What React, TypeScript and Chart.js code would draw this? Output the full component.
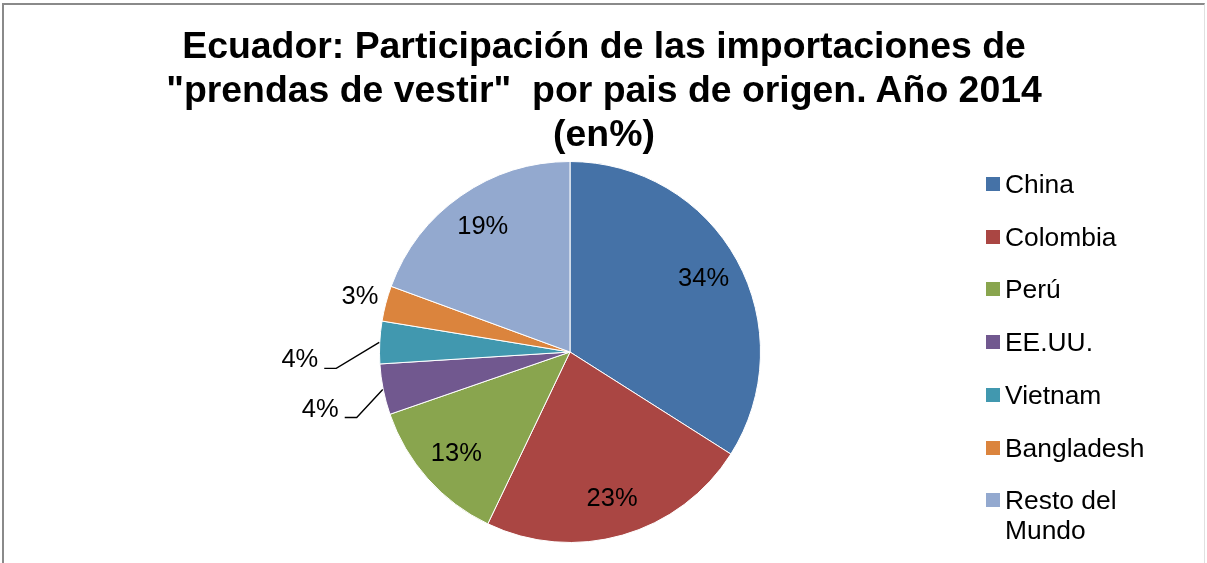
import React, { useEffect, useRef } from "react";
import { Chart, registerables } from "chart.js";

Chart.register(...registerables);

const titleLines = [
  "Ecuador: Participación de las importaciones de",
  "\"prendas de vestir\"  por pais de origen. Año 2014",
  "(en%)",
];
const categories = ["China", "Colombia", "Perú", "EE.UU.", "Vietnam", "Bangladesh", "Resto del Mundo"];
const shares = [34.0, 23.1, 12.6, 4.3, 3.6, 3.0, 19.4];
const colors = ["#4572A7", "#AA4643", "#89A54E", "#71588F", "#4198AF", "#DB843D", "#93A9CF"];

const FONT = "'Liberation Sans', Arial, sans-serif";

// label placement styles: inside radius factor, outside label styles per slice index
const insideFactor = 0.8;
const outsideStyles: Record<number, { radial?: number; leader?: { dx: number; dy: number } }> = {
  3: { leader: { dx: -26, dy: 28 } },
  4: { leader: { dx: -43, dy: 26 } },
  5: { radial: 1.14 },
};

const labelPlugin = {
  id: "pieLabels",
  afterDatasetsDraw(chart: any) {
    const ctx = chart.ctx;
    const meta = chart.getDatasetMeta(0);
    const data = chart.data.datasets[0].data as number[];
    const total = data.reduce((a, b) => a + b, 0);
    ctx.save();
    ctx.font = `25.5px ${FONT}`;
    ctx.fillStyle = "#000";
    ctx.strokeStyle = "#000";
    ctx.lineWidth = 1.4;
    meta.data.forEach((arc: any, i: number) => {
      const { x, y, startAngle, endAngle, outerRadius } = arc.getProps(
        ["x", "y", "startAngle", "endAngle", "outerRadius"],
        true
      );
      const mid = (startAngle + endAngle) / 2;
      const text = Math.round((data[i] / total) * 100) + "%";
      const style = outsideStyles[i];
      if (!style) {
        ctx.textAlign = "center";
        ctx.textBaseline = "middle";
        ctx.fillText(text, x + Math.cos(mid) * outerRadius * insideFactor, y + Math.sin(mid) * outerRadius * insideFactor);
      } else if (style.leader) {
        const ex = x + Math.cos(mid) * (outerRadius + 0.5);
        const ey = y + Math.sin(mid) * (outerRadius + 0.5);
        const bx = ex + style.leader.dx;
        const by = ey + style.leader.dy;
        const hx = bx - 12;
        ctx.beginPath();
        ctx.moveTo(ex, ey);
        ctx.lineTo(bx, by);
        ctx.lineTo(hx, by);
        ctx.stroke();
        ctx.textAlign = "right";
        ctx.textBaseline = "middle";
        ctx.fillText(text, hx - 6, by - 8);
      } else {
        const f = style.radial || 1.15;
        ctx.textAlign = "center";
        ctx.textBaseline = "middle";
        ctx.fillText(text, x + Math.cos(mid) * outerRadius * f, y + Math.sin(mid) * outerRadius * f);
      }
    });
    ctx.restore();
  },
};

export default function App() {
  const canvasRef = useRef<HTMLCanvasElement | null>(null);

  useEffect(() => {
    if (!canvasRef.current) return;
    const chart = new Chart(canvasRef.current, {
      type: "pie",
      data: {
        labels: categories,
        datasets: [
          {
            data: shares,
            backgroundColor: colors,
            borderColor: "#ffffff",
            borderWidth: 1,
          },
        ],
      },
      options: {
        responsive: false,
        animation: false,
        devicePixelRatio: 1,
        layout: { padding: { top: 161, bottom: 20, left: 150, right: 217 } },
        plugins: {
          legend: { display: false },
          title: { display: false },
          tooltip: { enabled: false },
        },
      },
      plugins: [labelPlugin],
    });
    return () => chart.destroy();
  }, []);

  return (
    <div style={{ position: "fixed", left: 0, top: 0, width: 1207, height: 563, background: "#fff", overflow: "hidden", fontFamily: FONT }}>
      <div
        style={{
          position: "absolute",
          left: 2,
          top: 3,
          width: 1203,
          height: 600,
          borderTop: "2px solid #8a8a8a",
          borderLeft: "2px solid #8a8a8a",
          borderRight: "1px solid #e0e0e0",
          boxSizing: "border-box",
        }}
      />
      <canvas ref={canvasRef} width={1207} height={563} style={{ position: "absolute", left: 0, top: 0, display: "block" }} />
      <div
        style={{
          position: "absolute",
          left: 4,
          width: 1200,
          top: 23,
          textAlign: "center",
          fontWeight: "bold",
          fontSize: 37.4,
          lineHeight: "44px",
          color: "#000",
        }}
      >
        {titleLines.map((t, i) => (
          <div key={i} style={{ whiteSpace: "pre" }}>
            {t}
          </div>
        ))}
      </div>
      {categories.map((c, i) => (
        <div key={c} style={{ position: "absolute", left: 986, top: 169 + i * 52.7 }}>
          <div style={{ position: "absolute", left: 0, top: 8, width: 14, height: 14, background: colors[i] }} />
          <div style={{ position: "absolute", left: 19, top: 0, width: 150, fontSize: 26.4, lineHeight: "30px", color: "#000" }}>{c}</div>
        </div>
      ))}
    </div>
  );
}
